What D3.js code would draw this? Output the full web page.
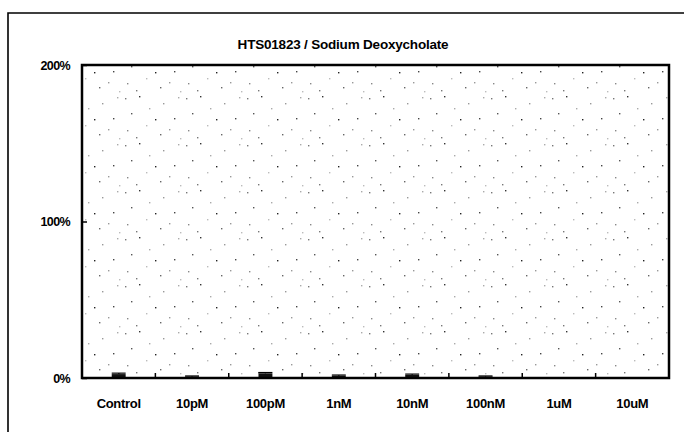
<!DOCTYPE html>
<html>
<head>
<meta charset="utf-8">
<script src="https://cdn.jsdelivr.net/npm/d3@7"></script>
<style>
  body { margin: 0; background: #fff; }
  text { font-family: "Liberation Sans", Arial, sans-serif; font-weight: bold; fill: #000; }
</style>
</head>
<body>
<svg id="chart" width="684" height="432"></svg>
<script>
//////////////// Daten ////////////////////
const titel = "HTS01823 / Sodium Deoxycholate";
const kategorien = ["Control", "10pM", "100pM", "1nM", "10nM", "100nM", "1uM", "10uM"];
const werte = [2.5, 1, 3, 1.5, 2, 1, 0, 0];      // Prozent
const fehler = [0.6, 0.3, 0.5, 0.4, 0.5, 0.3, 0, 0];
const yTicks = [0, 100, 200];

//////////////// Konstanten ////////////////////
const plot = {left: 82, right: 669, top: 65, bottom: 378};

const svg = d3.select("#chart");

// Rahmen aussen (Scan)
svg.append("path")
  .attr("d", "M8,432 L8,13 L684,13")
  .attr("fill", "none")
  .attr("stroke", "#000")
  .attr("stroke-width", 1.6);

// Punktmuster im Plotbereich (Rasterung des Scans)
const defs = svg.append("defs");
const pat = defs.append("pattern")
  .attr("id", "raster")
  .attr("width", 61).attr("height", 47)
  .attr("patternUnits", "userSpaceOnUse");
const punkte = [[3,4,"#777"],[17,2,"#333"],[41,9,"#999"],[9,19,"#555"],[27,14,"#aaa"],
  [52,24,"#444"],[5,36,"#888"],[24,31,"#bbb"],[38,40,"#666"],[56,3,"#aaa"],
  [33,25,"#222"],[47,35,"#999"],[14,43,"#777"],[58,44,"#bbb"]];
pat.selectAll("rect").data(punkte).enter().append("rect")
  .attr("x", d => d[0]).attr("y", d => d[1])
  .attr("width", 1.4).attr("height", 1.4)
  .attr("fill", d => d[2]);

svg.append("rect")
  .attr("x", plot.left).attr("y", plot.top)
  .attr("width", plot.right - plot.left).attr("height", plot.bottom - plot.top)
  .attr("fill", "url(#raster)");

//////////////// Skalen ////////////////////
const x = d3.scaleBand().domain(kategorien).range([plot.left, plot.right]).padding(0);
const y = d3.scaleLinear().domain([0, 200]).range([plot.bottom, plot.top]);
const barW = x.bandwidth() * 0.19;

// Balken
svg.append("g").selectAll("rect")
  .data(kategorien).enter().append("rect")
  .attr("x", (d) => x(d) + x.bandwidth() / 2 - barW / 2)
  .attr("y", (d, i) => y(werte[i]))
  .attr("width", barW)
  .attr("height", (d, i) => y(0) - y(werte[i]))
  .attr("fill", "#111");

// Fehlerbalken
const eb = svg.append("g").attr("stroke", "#000").attr("stroke-width", 1.2);
kategorien.forEach(function(d, i) {
  if (fehler[i] <= 0) return;
  const cx = x(d) + x.bandwidth() / 2;
  eb.append("line").attr("x1", cx).attr("x2", cx)
    .attr("y1", y(werte[i])).attr("y2", y(werte[i] + fehler[i]));
  eb.append("line").attr("x1", cx - barW / 2).attr("x2", cx + barW / 2)
    .attr("y1", y(werte[i] + fehler[i])).attr("y2", y(werte[i] + fehler[i]));
});

// Achsen
const yAxis = d3.axisLeft(y).tickValues(yTicks).tickSize(-5).tickFormat(d => d + "%");
const gy = svg.append("g").attr("transform", "translate(" + plot.left + ",0)").call(yAxis);
gy.select(".domain").remove();
gy.selectAll("line").attr("stroke", "#000").attr("stroke-width", 1.5);
gy.selectAll("text").attr("x", -12).attr("font-size", 12.5).style("letter-spacing", "-0.6px");

const xAxis = d3.axisBottom(x).tickSize(0).tickPadding(21);
const gx = svg.append("g").attr("transform", "translate(0," + plot.bottom + ")").call(xAxis);
gx.select(".domain").remove();
gx.selectAll("text").attr("font-size", 13).style("letter-spacing", "-0.3px");

// Trennstriche zwischen Kategorien
svg.append("g").selectAll("line")
  .data(kategorien.slice(1)).enter().append("line")
  .attr("x1", d => x(d)).attr("x2", d => x(d))
  .attr("y1", plot.bottom).attr("y2", plot.bottom - 5)
  .attr("stroke", "#000").attr("stroke-width", 1.5);

// Plotrahmen
svg.append("rect")
  .attr("x", plot.left).attr("y", plot.top)
  .attr("width", plot.right - plot.left).attr("height", plot.bottom - plot.top)
  .attr("fill", "none").attr("stroke", "#000").attr("stroke-width", 2.5);

// Titel
svg.append("text")
  .attr("x", 343).attr("y", 49)
  .attr("text-anchor", "middle")
  .attr("font-size", 13.5)
  .style("letter-spacing", "-0.2px")
  .text(titel);
</script>
</body>
</html>
